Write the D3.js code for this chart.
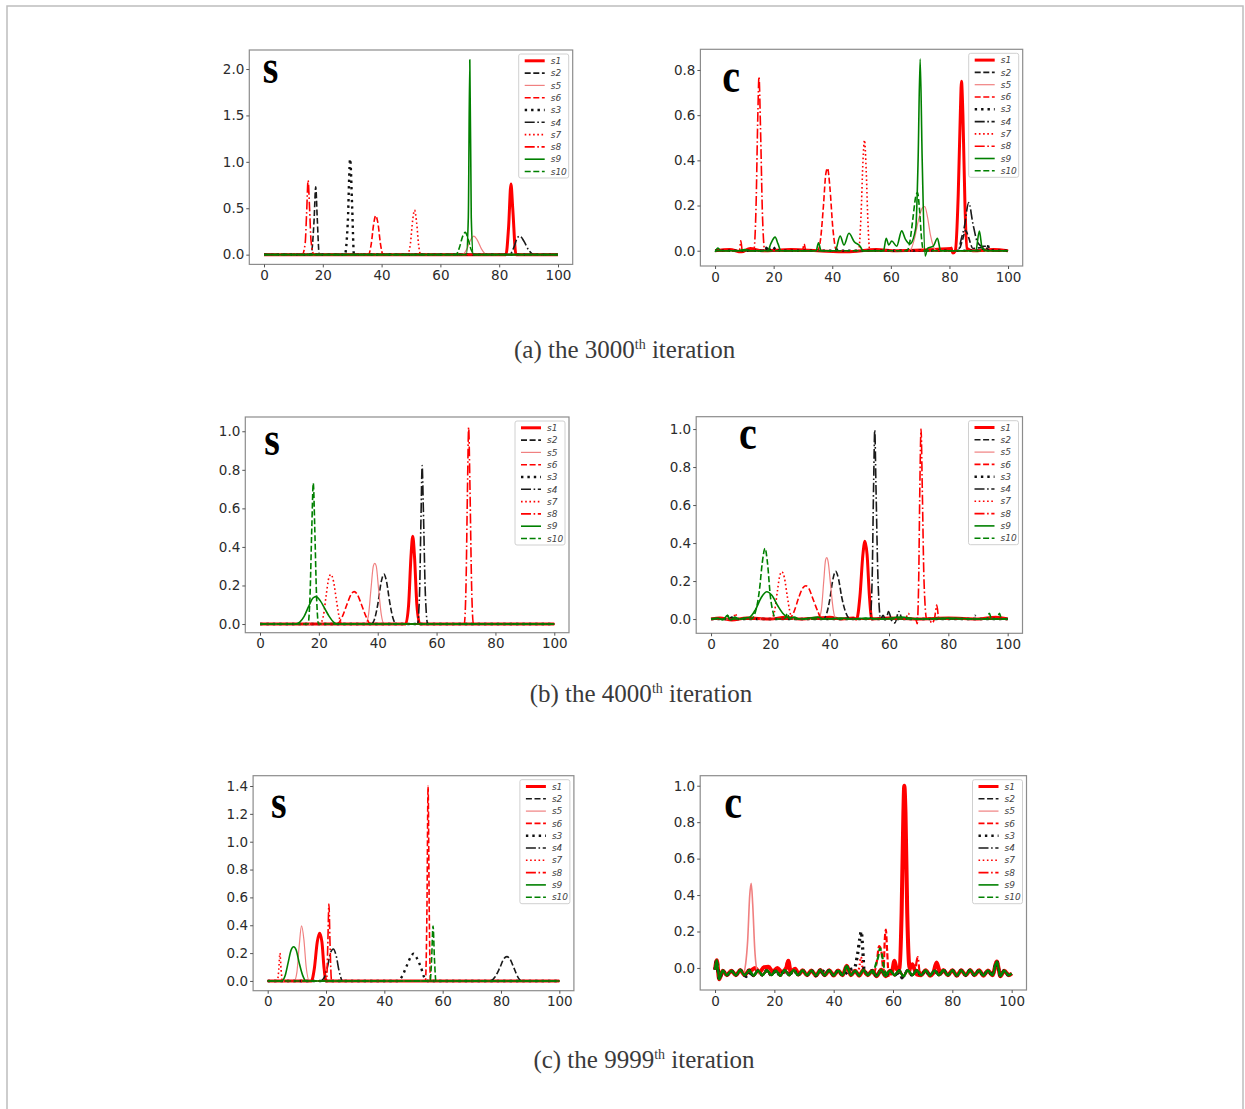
<!DOCTYPE html>
<html>
<head>
<meta charset="utf-8">
<script src="https://cdn.jsdelivr.net/npm/d3@7"></script>
<style>
body{margin:0;background:#fff;}
</style>
</head>
<body>
<script>
// legend / drawing order
const seriesNames=['s1','s2','s5','s6','s3','s4','s7','s8','s9','s10'];
const xTicks=[0,20,40,60,80,100];
const yTicks3000S=[0,0.5,1,1.5,2];
const yTicks3000C=[0,0.2,0.4,0.6,0.8];
const yTicks4000=[0,0.2,0.4,0.6,0.8,1];
const yTicks9999S=[0,0.2,0.4,0.6,0.8,1,1.2,1.4];
const yTicks9999C=[0,0.2,0.4,0.6,0.8,1];
const captions=[
    ['(a) the 3000','th',' iteration'],
    ['(b) the 4000','th',' iteration'],
    ['(c) the 9999','th',' iteration']
];

// (a) 3000th iteration, S
const iter3000S={
 s1:[[0,0],[82.3,0],[83.2,0.3],[84,0.76],[84.6,0.5],[85.7,0],[100,0]],
 s2:[[0,0],[16,0],[17,0.35],[17.6,0.73],[18.1,0.4],[18.8,0],[100,0]],
 s5:[[0,0],[67.5,0],[69,0.06],[70.3,0.16],[71.4,0.2],[72.5,0.16],[74,0.06],[75.8,0],[100,0]],
 s6:[[0,0],[35.5,0],[36.5,0.12],[37.3,0.33],[38,0.42],[38.8,0.33],[39.6,0.12],[40.5,0],[100,0]],
 s3:[[0,0],[27.5,0],[28.5,0.35],[29.3,1.03],[30,0.5],[30.6,0],[100,0]],
 s4:[[0,0],[83.5,0],[85,0.08],[86,0.17],[87,0.2],[88.5,0.14],[90,0.05],[91.8,0],[100,0]],
 s7:[[0,0],[48.8,0],[49.8,0.12],[50.6,0.38],[51.2,0.48],[51.9,0.35],[52.6,0.1],[53.3,0],[100,0]],
 s8:[[0,0],[13,0],[14,0.12],[14.5,0.45],[15,0.8],[15.5,0.5],[16,0.15],[17,0],[100,0]],
 s9:[[0,0],[68.8,0],[69.5,0.4],[70,2.1],[70.5,0.4],[71.2,0],[100,0]],
 s10:[[0,0],[65.3,0],[66.5,0.08],[67.6,0.2],[68.5,0.24],[69.3,0.18],[70.5,0.05],[71.8,0],[100,0]]
};
// (a) 3000th iteration, C
const iter3000C={
 s1:[[0,0],[5,0.005],[9,-0.005],[12,0.01],[16,0],[26,0.005],[35,0],[45,-0.005],[55,0.005],[62,0],[75,0.005],[80.5,0.01],[81.2,-0.01],[82,0],[83,0.25],[83.7,0.6],[84.1,0.75],[84.6,0.6],[85.3,0.2],[86,0.01],[88,0],[95,0.005],[100,0]],
 s2:[[0,0],[16,0],[17.5,0.015],[18.5,0],[83,0],[84.5,0.05],[85.5,0.09],[86.5,0.06],[88,0.01],[92,0.015],[94,0],[100,0]],
 s5:[[0,0],[66.5,0],[68,0.05],[69.5,0.14],[70.8,0.19],[71.6,0.195],[72.5,0.15],[73.5,0.07],[74.5,0.02],[75.5,0],[100,0]],
 s6:[[0,0],[29.8,0],[30.4,0.03],[31,0],[35,0],[36,0.05],[37,0.2],[37.8,0.34],[38.4,0.365],[39.2,0.28],[40.2,0.1],[41.5,0],[100,0]],
 s3:[[0,0],[17,0],[18,0.02],[19,0],[21,0.015],[22,0],[91,0],[92.5,0.02],[94,0.015],[95,0],[100,0]],
 s4:[[0,0],[41,0],[41.5,0.01],[42,0],[83,0],[84,0.05],[85,0.1],[86.6,0.213],[88,0.12],[89.5,0.04],[91,0.02],[93,0.02],[94.5,0],[100,0]],
 s7:[[0,0],[49,0],[49.8,0.15],[50.5,0.4],[51,0.49],[51.6,0.35],[52.2,0.12],[52.8,0],[100,0]],
 s8:[[0,0],[8.3,0],[8.8,0.044],[9.3,0],[13.2,0],[14,0.2],[14.6,0.6],[15,0.77],[15.5,0.55],[16.2,0.15],[17,0],[80,0],[80.7,0.015],[81.2,-0.01],[82,0],[100,0]],
 s9:[[0,-0.005],[1,0.012],[2,0],[8,0],[10,0.005],[12,0],[18,0],[19,0.03],[20.5,0.06],[21.5,0.03],[22.5,0],[34.5,0],[35.3,0.035],[36.2,0],[41,0],[42.7,0.065],[44,0.025],[45.7,0.077],[47.5,0.04],[49.5,0.02],[50.5,0],[57.5,0],[58.4,0.055],[59.3,0.025],[60.3,0.043],[62,0.02],[63.7,0.088],[65,0.05],[66.5,0.03],[68.5,0.1],[69.3,0.4],[70,0.849],[70.7,0.4],[71.7,-0.024],[72.5,0.01],[74.5,0.02],[75.9,0.055],[77,0],[89,0],[90.2,0.087],[91.2,0.01],[93,0],[100,0]],
 s10:[[0,0],[65.5,0],[66.5,0.04],[67.5,0.14],[68.5,0.24],[69.1,0.257],[69.8,0.18],[70.5,0.05],[71.2,0],[100,0]]
};
// (b) 4000th iteration, S
const iter4000S={
 s1:[[0,0],[49.5,0],[50.5,0.1],[51.3,0.35],[51.9,0.455],[52.5,0.35],[53.3,0.1],[54.3,0],[100,0]],
 s2:[[0,0],[37.8,0],[39,0.03],[40,0.1],[41.2,0.22],[42.1,0.259],[43,0.22],[44,0.12],[45.2,0.03],[46.4,0],[100,0]],
 s5:[[0,0],[35.8,0],[36.8,0.04],[37.7,0.18],[38.5,0.3],[39,0.315],[39.5,0.3],[40.3,0.18],[41.2,0.05],[42.2,0],[100,0]],
 s6:[[0,0],[26.2,0],[28,0.04],[29.5,0.1],[31,0.155],[32,0.168],[33,0.155],[34.5,0.1],[36,0.04],[37.5,0],[100,0]],
 s3:[[0,0],[100,0]],
 s4:[[0,0],[53.5,0],[54.2,0.15],[54.7,0.55],[55.1,0.822],[55.5,0.6],[56.2,0.15],[57,0],[100,0]],
 s7:[[0,0],[20.3,0],[21.5,0.04],[22.5,0.15],[23.4,0.24],[24.1,0.257],[25,0.22],[26,0.12],[27,0.03],[27.8,0],[100,0]],
 s8:[[0,0],[69.4,0],[70,0.2],[70.5,0.7],[70.9,1.02],[71.3,0.75],[71.9,0.2],[72.5,0],[100,0]],
 s9:[[0,0],[12,0],[13.5,0.01],[15,0.04],[16.5,0.09],[18,0.135],[19,0.142],[20.5,0.12],[22,0.08],[23.5,0.04],[25,0.01],[26,0],[100,0]],
 s10:[[0,0],[16.3,0],[17,0.15],[17.6,0.5],[18.1,0.73],[18.6,0.5],[19.2,0.15],[19.9,0],[100,0]]
};
// (b) 4000th iteration, C
const iter4000C={
 s1:[[0,0],[3,0.005],[7,-0.005],[12,0.005],[20,0],[25,0.01],[30,0],[36,0.005],[40,0.01],[44,0],[48,0.005],[49.1,0],[50.2,0.12],[51.2,0.34],[51.9,0.41],[52.6,0.34],[53.4,0.12],[54.2,0],[60,0.005],[70,0],[80,0.005],[90,0],[96,0.01],[100,0]],
 s2:[[0,0],[6,0],[7,0.01],[8,0],[37.9,0],[39,0.03],[40,0.1],[41.1,0.21],[42,0.251],[43,0.21],[44,0.12],[45.3,0.04],[46.6,0.005],[50,0],[100,0]],
 s5:[[0,0],[36.2,0],[37.2,0.05],[38,0.2],[38.6,0.31],[39,0.323],[39.5,0.3],[40.3,0.18],[41.2,0.05],[42.1,0],[100,0]],
 s6:[[0,0],[26.3,0],[28,0.04],[29.5,0.11],[31,0.165],[32,0.175],[33,0.16],[34.5,0.1],[36,0.04],[37.3,0],[100,0]],
 s3:[[0,0],[100,0]],
 s4:[[0,0],[53.6,0],[54.3,0.2],[54.8,0.7],[55.2,0.995],[55.6,0.7],[56.3,0.2],[57.2,0],[58,0.02],[59,-0.01],[59.8,0.04],[61,-0.01],[62,-0.02],[63.3,0.04],[64.5,0],[88.5,0],[89,0.02],[89.6,0],[100,0]],
 s7:[[0,0],[7.5,0],[8.2,0.03],[9,0],[20.2,0],[21.4,0.04],[22.4,0.15],[23.2,0.23],[23.9,0.249],[24.7,0.22],[25.7,0.12],[26.7,0.03],[27.5,0],[65.5,0],[66.5,0.03],[67.5,0],[100,0]],
 s8:[[0,0],[69,0],[69.5,-0.025],[70,0.2],[70.4,0.7],[70.8,1.0],[71.2,0.7],[71.8,0.2],[72.7,0],[73.5,0.005],[74.4,-0.022],[75.3,0],[76.1,0.074],[76.8,0],[100,0]],
 s9:[[0,0],[2,0.005],[4,-0.005],[5.5,0.02],[6.5,-0.005],[8,0.01],[9.5,0],[11,0.005],[13,0.01],[15,0.05],[17,0.115],[18.8,0.144],[20.5,0.125],[22.5,0.07],[24.5,0.025],[26.5,0.005],[28,0.01],[30,0],[33,0.005],[36,0.01],[38,0],[44,0.005],[48,0],[52,0.005],[58,0],[64,0.01],[70,0],[80,0.005],[90,0],[100,0]],
 s10:[[0,0],[5,0],[5.6,0.02],[6.2,0],[13.5,0],[15,0.04],[16.3,0.15],[17.3,0.3],[18.2,0.372],[19,0.3],[20,0.12],[21,0.03],[22,0],[25,0.005],[25.7,0.03],[26.5,0],[93,0],[93.8,0.03],[94.6,0],[96.5,0],[97.2,0.03],[98,0],[100,0]]
};
// (c) 9999th iteration, S
const iter9999S={
 s1:[[0,0],[15,0],[16,0.09],[17,0.28],[17.8,0.342],[18.6,0.28],[19.3,0.1],[20,0],[100,0]],
 s2:[[0,0],[76.2,0],[78,0.03],[79.5,0.09],[81,0.16],[82,0.175],[83,0.16],[84.5,0.09],[86,0.02],[87.1,0],[100,0]],
 s5:[[0,0],[9.1,0],[10,0.06],[10.8,0.25],[11.6,0.395],[12.4,0.3],[13.2,0.1],[14.3,0],[100,0]],
 s6:[[0,0],[54.1,0],[54.6,0.5],[55,1.4],[55.4,0.5],[55.8,0],[100,0]],
 s3:[[0,0],[44.5,0],[46,0.03],[47.5,0.1],[49,0.17],[50,0.195],[51,0.17],[52.5,0.1],[53.8,0.02],[54.8,0],[100,0]],
 s4:[[0,0],[18,0],[19.5,0.03],[20.5,0.1],[21.5,0.2],[22.5,0.23],[23.5,0.18],[24.5,0.07],[25.7,0],[100,0]],
 s7:[[0,0],[3.3,0],[3.8,0.08],[4.2,0.2],[4.6,0.08],[5.1,0],[100,0]],
 s8:[[0,0],[20.2,0],[20.6,0.25],[21,0.553],[21.4,0.25],[21.9,0],[100,0]],
 s9:[[0,0],[4.8,0],[6,0.04],[7,0.13],[8,0.22],[8.9,0.246],[9.8,0.22],[10.8,0.13],[12,0.04],[13.1,0],[100,0]],
 s10:[[0,0],[55.7,0],[56.2,0.15],[56.7,0.395],[57.2,0.15],[57.7,0],[100,0]]
};
// (c) 9999th iteration, C: the wavy floor shared by the curves, then the bumps on top of it
const ripple9999=[[0,-0.01],[0.6,0.042],[1.4,-0.062],[2.6,-0.015],[4,-0.04],[5.5,-0.015],[7,-0.04],[8.5,-0.012],[10,-0.04],[11.5,-0.013],[13,-0.042],[14.5,-0.015],[16,-0.04],[17.5,-0.013],[19,-0.04],[20.5,-0.015],[22,-0.042],[23.5,-0.012],[25,-0.04],[26.5,-0.012],[28,-0.04],[29.5,-0.013],[31,-0.04],[32.5,-0.014],[34,-0.042],[35.5,-0.012],[37,-0.04],[38.5,-0.013],[40,-0.041],[41.5,-0.014],[43,-0.04],[44.4,0.012],[45.8,-0.04],[47.2,-0.015],[48.6,-0.042],[50,-0.012],[51.5,-0.04],[53,-0.015],[54.5,-0.045],[56,-0.01],[57.5,-0.045],[59,-0.015],[60.5,-0.04],[62,-0.014],[63.5,-0.045],[65,-0.013],[66.5,-0.04],[68,-0.012],[69.5,-0.04],[71,-0.013],[72.5,-0.042],[74,-0.014],[75.5,-0.04],[77,-0.012],[78.5,-0.04],[80,-0.013],[81.5,-0.042],[83,-0.013],[84.5,-0.04],[86,-0.012],[87.5,-0.04],[89,-0.013],[90.5,-0.042],[92,-0.014],[93.5,-0.04],[95,0.035],[96.2,-0.045],[97.5,-0.015],[99,-0.04],[100,-0.03]];
const bumps9999C={
 s1:[[[12,-0.015],[13.5,0],[15,-0.025],[16.5,0.004],[18,0.006],[19.5,-0.02],[21,0],[22.5,-0.022],[24,0],[24.7,0.04],[25.5,-0.02],[27,-0.005],[28.3,-0.035]],
     [[59.5,-0.03],[60.5,0.04],[61.3,-0.01],[62.2,0],[62.9,0.3],[63.5,0.85],[63.8,1.0],[64.2,0.85],[64.8,0.3],[65.6,0],[66.5,0.02],[67.3,-0.01],[68,-0.035]],
     [[73.5,-0.03],[74.7,0.03],[76,-0.03]]],
 s2:[[[9.5,-0.03],[10.5,-0.05],[11.5,-0.03]],[[62,-0.03],[63,-0.058],[64,-0.03]]],
 s5:[[[9.5,-0.03],[10.3,0.02],[11,0.15],[11.7,0.4],[12.2,0.465],[12.7,0.35],[13.4,0.1],[14.3,-0.02],[15,-0.03]]],
 s6:[[[23.5,-0.02],[24.5,0.04],[25.5,-0.03]],
     [[53.5,-0.03],[54.5,0.03],[55.3,0.12],[56,0.1],[56.8,-0.02],[57.2,0.15],[57.6,0.21],[58,0.1],[58.6,-0.05],[59.5,-0.02]]],
 s3:[[[44,-0.03],[45.5,-0.01],[47,0],[48,0.07],[48.8,0.16],[49.3,0.2],[49.8,0.1],[50.3,-0.02],[51.5,-0.03]]],
 s4:[[[36,-0.03],[37,-0.01],[38,-0.03]]],
 s7:[[[47.5,-0.03],[48.6,0],[49.2,0.06],[49.8,-0.01],[50.5,-0.03]]],
 s8:[[[65.5,-0.03],[66.5,0.02],[67.5,0],[68.3,0.06],[69,-0.02],[70,-0.03]]],
 s9:[],
 s10:[[[53.2,-0.03],[54.2,0.02],[55,0.06],[55.6,0.108],[56.2,0.08],[57,0],[57.8,-0.03]]]
};

if (!Array.prototype.last){
    Array.prototype.last=function(){ return this[this.length-1]; };
}
let overlay=function(base,groups){
    let pts=base.filter(p=>!groups.some(g=>p[0]>=g[0][0]&&p[0]<=g.last()[0]));
    groups.forEach(g=>pts=pts.concat(g));
    return pts.sort((a,b)=>a[0]-b[0]);
};
let iter9999C={};
seriesNames.forEach(n=>iter9999C[n]=overlay(ripple9999,bumps9999C[n]));

const STYLE={
    's1':{c:'#ff0000',w:3,d:null},
    's2':{c:'#1a1a1a',w:1.6,d:'6,2.6'},
    's5':{c:'#f08080',w:1.2,d:null},
    's6':{c:'#ff0000',w:1.6,d:'6,2.6'},
    's3':{c:'#111',w:2.4,d:'2.4,4'},
    's4':{c:'#1a1a1a',w:1.6,d:'10,2.6,1.6,2.6'},
    's7':{c:'#ff0000',w:1.6,d:'1.6,2.6'},
    's8':{c:'#ff0000',w:1.6,d:'10,2.6,1.6,2.6'},
    's9':{c:'#008000',w:1.6,d:null},
    's10':{c:'#008000',w:1.6,d:'6,2.6'}
};

// box = [left, top, right, bottom] in px, x always spans -5..105; lw = line width factor
const panels=[
    {data:iter3000S,yTicks:yTicks3000S,yDom:[-0.105,2.205],box:[249.3,50,572.7,264.4],mark:'s',markAt:[262.7,83.3],lw:1},
    {data:iter3000C,yTicks:yTicks3000C,yDom:[-0.0677,0.8916],box:[700.4,49.3,1022.7,266],mark:'c',markAt:[722.3,91.7],lw:1},
    {data:iter4000S,yTicks:yTicks4000,yDom:[-0.045,1.074],box:[245.3,417,569,632.7],mark:'s',markAt:[264.3,455],lw:1},
    {data:iter4000C,yTicks:yTicks4000,yDom:[-0.075,1.065],box:[696.2,416.7,1022.5,633.3],mark:'c',markAt:[739,449.3],lw:1},
    {data:iter9999S,yTicks:yTicks9999S,yDom:[-0.07,1.474],box:[253.1,775.7,573.9,990.7],mark:'s',markAt:[271,818.3],lw:1},
    {data:iter9999C,yTicks:yTicks9999C,yDom:[-0.121,1.055],box:[700.2,775.7,1026.5,990],mark:'c',markAt:[724.3,818.3],lw:1.35}
];
const captionAt=[[624.6,358],[641,702],[644,1068]];

let svgWidth=1245,svgHeight=1109;
let svg=d3.select('body').append('svg')
    .attr('width',svgWidth).attr('height',svgHeight);

svg.append('rect')
    .attr('x',7).attr('y',6).attr('width',1236).attr('height',1120)
    .attr('fill','#fff').attr('stroke','#bdbdbd').attr('stroke-width',1.5);

function drawPanel(p,i){
    let [x0,y0,x1,y1]=p.box;
    let x=d3.scaleLinear().domain([-5,105]).range([x0,x1]);
    let y=d3.scaleLinear().domain(p.yDom).range([y1,y0]);
    let g=svg.append('g');

    g.append('clipPath').attr('id','clip'+i)
        .append('rect').attr('x',x0).attr('y',y0).attr('width',x1-x0).attr('height',y1-y0);

    let line=d3.line().x(d=>x(d[0])).y(d=>y(d[1])).curve(d3.curveMonotoneX);
    let lines=g.append('g').attr('clip-path',`url(#clip${i})`);
    seriesNames.forEach(n=>{
        let s=STYLE[n];
        lines.append('path').datum(p.data[n])
            .attr('d',line)
            .attr('fill','none')
            .attr('stroke',s.c)
            .attr('stroke-width',s.w*p.lw)
            .attr('stroke-dasharray',s.d)
            .attr('stroke-linejoin','round');
    });

    g.append('rect')
        .attr('x',x0).attr('y',y0).attr('width',x1-x0).attr('height',y1-y0)
        .attr('fill','none').attr('stroke','#8c8c8c').attr('stroke-width',1.2);

    let xa=g.append('g').attr('transform',`translate(0,${y1})`)
        .call(d3.axisBottom(x).tickValues(xTicks).tickSize(3).tickPadding(3));
    let ya=g.append('g').attr('transform',`translate(${x0},0)`)
        .call(d3.axisLeft(y).tickValues(p.yTicks).tickSize(3).tickPadding(2).tickFormat(d3.format('.1f')));
    [xa,ya].forEach(a=>{
        a.select('.domain').remove();
        a.selectAll('line').attr('stroke','#555');
        a.selectAll('text').attr('fill','#2b2b2b')
            .style('font-family','"DejaVu Sans"').style('font-size','13.5px');
    });

    // legend, upper right
    let lw=50,lh=124;
    let lx=x1-4-lw,ly=y0+4;
    let lg=g.append('g').attr('transform',`translate(${lx},${ly})`);
    lg.append('rect').attr('width',lw).attr('height',lh).attr('rx',2)
        .attr('fill','#fff').attr('fill-opacity',0.85)
        .attr('stroke','#d0d0d0').attr('stroke-width',1);
    seriesNames.forEach((n,k)=>{
        let s=STYLE[n],ry=6.8+k*12.3;
        lg.append('line').attr('x1',6).attr('x2',26).attr('y1',ry).attr('y2',ry)
            .attr('stroke',s.c).attr('stroke-width',s.w).attr('stroke-dasharray',s.d);
        lg.append('text').attr('x',32).attr('y',ry+3.2).text(n)
            .attr('fill','#444').style('font-family','"DejaVu Sans"')
            .style('font-style','italic').style('font-size','9px');
    });

    g.append('text')
        .attr('transform',`translate(${p.markAt[0]},${p.markAt[1]}) scale(1,1.2)`)
        .text(p.mark)
        .style('font-family','"Liberation Serif"').style('font-weight','bold')
        .style('font-size','40px').attr('fill','#000');
}
panels.forEach(drawPanel);

captions.forEach((c,i)=>{
    let t=svg.append('text')
        .attr('x',captionAt[i][0]).attr('y',captionAt[i][1])
        .attr('text-anchor','middle').attr('fill','#3a3a3a')
        .style('font-family','"Liberation Serif"').style('font-size','25px');
    t.append('tspan').text(c[0]);
    t.append('tspan').text(c[1]).attr('dy',-9).style('font-size','14px');
    t.append('tspan').text(c[2]).attr('dy',9);
});
</script>
</body>
</html>
